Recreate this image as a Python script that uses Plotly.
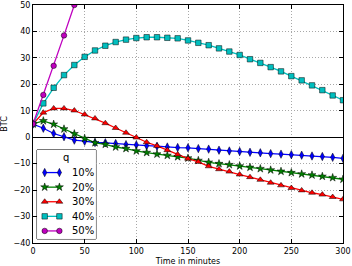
import plotly.graph_objects as go

t_full = list(range(0, 301, 10))
t_50 = [0, 10, 20, 30, 40]

q10 = [5, 3.4, 1.4, 0.2, -1.1, -1.5, -2.0, -2.1, -2.4, -2.8, -2.9, -3.2, -3.4, -3.7, -3.9,
       -4.0, -4.3, -4.5, -4.9, -5.2, -5.4, -5.7, -5.9, -6.2, -6.4, -6.6, -6.8, -7.1, -7.3, -7.6, -8.0]
q20 = [5, 6.2, 4.9, 3.1, 1.3, -0.5, -2.1, -2.7, -3.7, -4.3, -5.2, -5.8, -6.4, -6.9, -7.4,
       -7.9, -8.8, -9.5, -10.0, -10.4, -10.9, -11.4, -11.9, -12.4, -12.9, -13.4, -13.9, -14.3, -14.8, -15.3, -15.9]
q30 = [5, 9.3, 10.9, 10.9, 10.1, 8.6, 7.1, 5.3, 3.5, 1.7, -0.1, -1.9, -3.3, -4.9, -6.5,
       -8.1, -9.3, -11.0, -12.1, -13.0, -14.1, -15.1, -16.1, -17.2, -18.2, -19.2, -20.1, -21.0, -21.7, -22.6, -23.5]
q40 = [5, 12.8, 18.7, 23.5, 27.3, 30.4, 32.8, 34.6, 36.0, 36.9, 37.5, 37.8, 37.8, 37.6, 37.4,
       36.6, 35.7, 34.8, 33.6, 32.4, 31.1, 29.5, 28.1, 26.5, 24.9, 23.1, 21.5, 19.6, 17.8, 15.8, 14.0]
q50 = [5, 16.0, 27.0, 38.5, 50.0]

labels = ["10%", "20%", "30%", "40%", "50%"]
legend_title = "q"
x_ticks = [0, 50, 100, 150, 200, 250, 300]
y_ticks = list(range(-40, 51, 10))

colors = ["#0000ff", "#008000", "#ff0000", "#00bfbf", "#bf00bf"]
symbols = ["diamond-tall", "star", "triangle-up", "square", "circle"]
sizes = [6, 6, 6, 5.5, 5.5]
series = [(t_full, q10), (t_full, q20), (t_full, q30), (t_full, q40), (t_50, q50)]

fig = go.Figure()
for (x, y), lab, c, s, sz in zip(series, labels, colors, symbols, sizes):
    fig.add_trace(go.Scatter(
        x=x, y=y, name=lab, mode="lines+markers",
        line=dict(color=c, width=1.3),
        marker=dict(symbol=s, size=sz, color=c, line=dict(color="black", width=0.5)),
        showlegend=False,
    ))

# --- matplotlib-style legend box (two markers per sample) on a helper axis ---
LX0, LX1, LY0, LY1 = 0.013, 0.203, 0.017, 0.391
fig.add_shape(type="rect", xref="paper", yref="paper", x0=LX0, x1=LX1, y0=LY0, y1=LY1,
              fillcolor="white", line=dict(color="black", width=1), layer="between")
n = len(labels)
for i, (lab, c, s, sz) in enumerate(zip(labels, colors, symbols, sizes)):
    row = i + 1
    fig.add_trace(go.Scatter(
        x=[0.13, 0.38], y=[row, row], mode="lines+markers", xaxis="x2", yaxis="y2",
        line=dict(color=c, width=1.3),
        marker=dict(symbol=s, size=sz, color=c, line=dict(color="black", width=0.5)),
        showlegend=False, hoverinfo="skip",
    ))
    fig.add_annotation(x=0.56, y=row, xref="x2", yref="y2", text=lab, showarrow=False,
                       xanchor="left", yanchor="middle", font=dict(size=10))
fig.add_annotation(x=0.5, y=0, xref="x2", yref="y2", text=legend_title, showarrow=False,
                   xanchor="center", yanchor="middle", font=dict(size=10))

axis_common = dict(
    automargin=False,
    showgrid=True, gridcolor="#a8a8a8", griddash="1px,2px", gridwidth=1,
    showline=True, linecolor="black", linewidth=1, mirror="ticks",
    ticks="inside", ticklen=4, tickcolor="black",
)

fig.update_layout(
    width=352, height=266,
    margin=dict(l=33, r=9, t=5, b=23),
    paper_bgcolor="white", plot_bgcolor="white",
    font=dict(family="DejaVu Sans", size=8, color="black"),
    showlegend=False,
    xaxis=dict(range=[0, 300], tickvals=x_ticks, zeroline=False,
               title=dict(text="Time in minutes", standoff=3, font=dict(size=8)),
               **axis_common),
    yaxis=dict(range=[-40, 50], tickvals=y_ticks,
               zeroline=True, zerolinecolor="black", zerolinewidth=1,
               title=dict(text="BTC", standoff=4, font=dict(size=8)),
               **axis_common),
    xaxis2=dict(domain=[LX0, LX1], range=[0, 1], anchor="y2", visible=False, fixedrange=True),
    yaxis2=dict(domain=[LY0, LY1], range=[n + 0.55, -0.55], anchor="x2", visible=False, fixedrange=True),
)

fig.write_html("out.html", config={"displayModeBar": False},
               post_script="document.body.style.margin='0';")
